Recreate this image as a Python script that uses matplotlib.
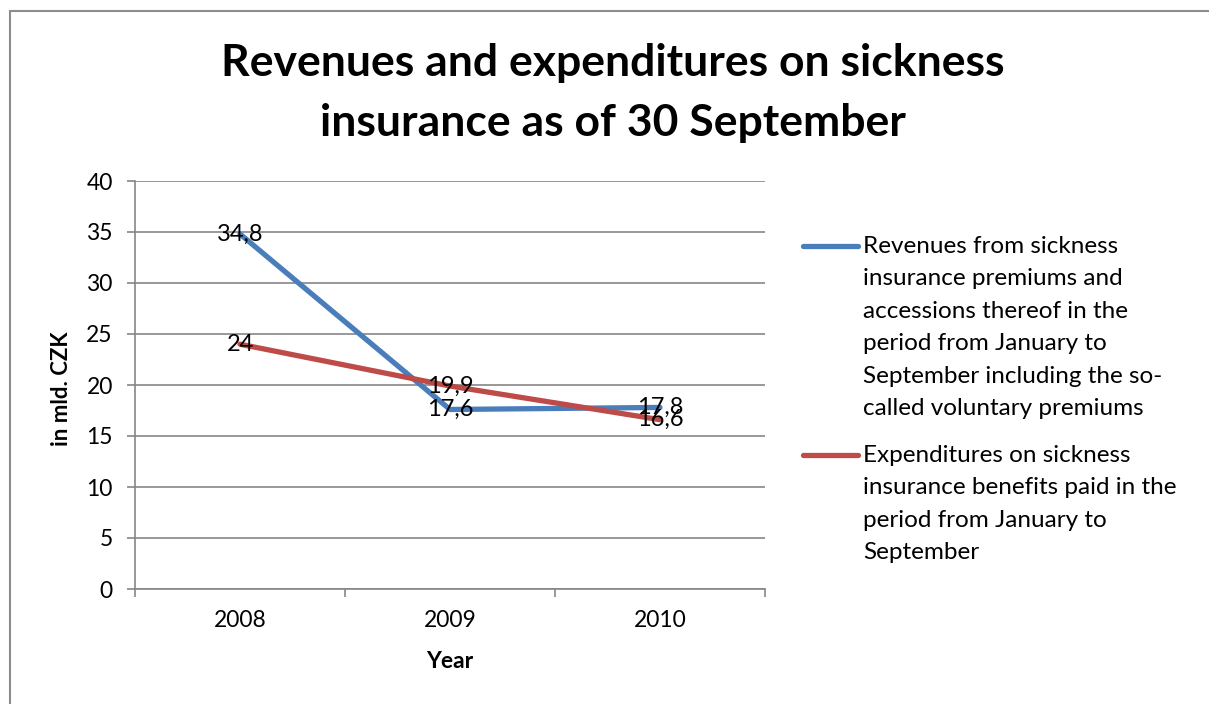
import matplotlib
matplotlib.use("Agg")
import matplotlib.pyplot as plt
from matplotlib.lines import Line2D
from matplotlib.patches import Rectangle

plt.rcParams['font.family'] = ['Lato', 'DejaVu Sans']

years = ['2008', '2009', '2010']
revenues = [34.8, 17.6, 17.8]
expenditures = [24.0, 19.9, 16.6]
rev_labels = ['34,8', '17,6', '17,8']
exp_labels = ['24', '19,9', '16,6']
legend_labels = [
    "Revenues from sickness\ninsurance premiums and\naccessions thereof in the\n"
    "period from January to\nSeptember including the so-\ncalled voluntary premiums",
    "Expenditures on sickness\ninsurance benefits paid in the\nperiod from January to\nSeptember",
]
title_lines = ['Revenues and expenditures on sickness', 'insurance as of 30 September']
top_caption = ('Table: Revenues and expenditures on the sickness insurance benefits '
               'as of 30 September (in mld)')

BLUE = '#4A7EBB'
RED = '#BE4B48'
GRID = '#868686'
W, H = 1209, 704

fig = plt.figure(figsize=(W / 100, H / 100), dpi=100)
fig.patch.set_facecolor('white')

# caption of the page above, almost fully cut off like in the source
fig.text(0.5, 1 + 5 / H, top_caption, ha='center', va='baseline', fontsize=18)

# chart frame
fig.add_artist(Rectangle((10 / W, -0.1), 1.2, 1 - 11 / H + 0.1, transform=fig.transFigure,
                         fill=False, edgecolor='#8c8c8c', lw=1.5))

ax = fig.add_axes([135 / W, 1 - 589 / H, 630 / W, 408 / H])
x = range(len(years))
ax.plot(x, revenues, color=BLUE, lw=3.8, solid_capstyle='round', zorder=3)
ax.plot(x, expenditures, color=RED, lw=3.8, solid_capstyle='round', zorder=3)
for xi, v, t in zip(x, revenues, rev_labels):
    ax.text(xi, v, t, ha='center', va='center', fontsize=17, zorder=4)
for xi, v, t in zip(x, expenditures, exp_labels):
    ax.text(xi, v, t, ha='center', va='center', fontsize=17, zorder=4)

ax.set_xlim(-0.5, 2.5)
ax.set_ylim(0, 40)
ax.set_yticks(range(0, 41, 5))
ax.set_xticks(list(x))
ax.set_xticklabels(years)
ax.set_xticks([-0.5, 0.5, 1.5, 2.5], minor=True)
ax.tick_params(axis='x', which='major', length=0, pad=15, labelsize=16.5)
ax.tick_params(axis='x', which='minor', length=6, width=1.2, color=GRID, direction='out')
ax.tick_params(axis='y', length=6, width=1.2, color=GRID, pad=10, labelsize=16.5)
ax.grid(axis='y', color=GRID, lw=1.2)
ax.set_axisbelow(True)
for s in ['top', 'right']:
    ax.spines[s].set_visible(False)
for s in ['left', 'bottom']:
    ax.spines[s].set_color(GRID)
    ax.spines[s].set_linewidth(1.2)

ax.set_ylabel('in mld. CZK', fontsize=16, fontweight='bold')
ax.yaxis.set_label_coords(-(135 - 62) / 630, 0.49)
ax.yaxis.label.set_va('center')
ax.set_xlabel('Year', fontsize=16.5, fontweight='bold')
ax.xaxis.set_label_coords(0.5, -(662 - 589) / 408)
ax.xaxis.label.set_va('center')

fig.text(613 / W, 1 - 63 / H, title_lines[0], ha='center', va='center',
         fontsize=32, fontweight='bold')
fig.text(613 / W, 1 - 123 / H, title_lines[1], ha='center', va='center',
         fontsize=32, fontweight='bold')

# legend drawn by hand so the line sits on the first text row
for (ly, lab, col) in [(246, legend_labels[0], BLUE), (455, legend_labels[1], RED)]:
    fig.add_artist(Line2D([803 / W, 858 / W], [1 - ly / H, 1 - ly / H],
                          transform=fig.transFigure, color=col, lw=3.8,
                          solid_capstyle='round'))
    fig.text(863 / W, 1 - (ly - 10) / H, lab, ha='left', va='top',
             fontsize=17.5, linespacing=1.67)

fig.savefig('out.png', dpi=100)
